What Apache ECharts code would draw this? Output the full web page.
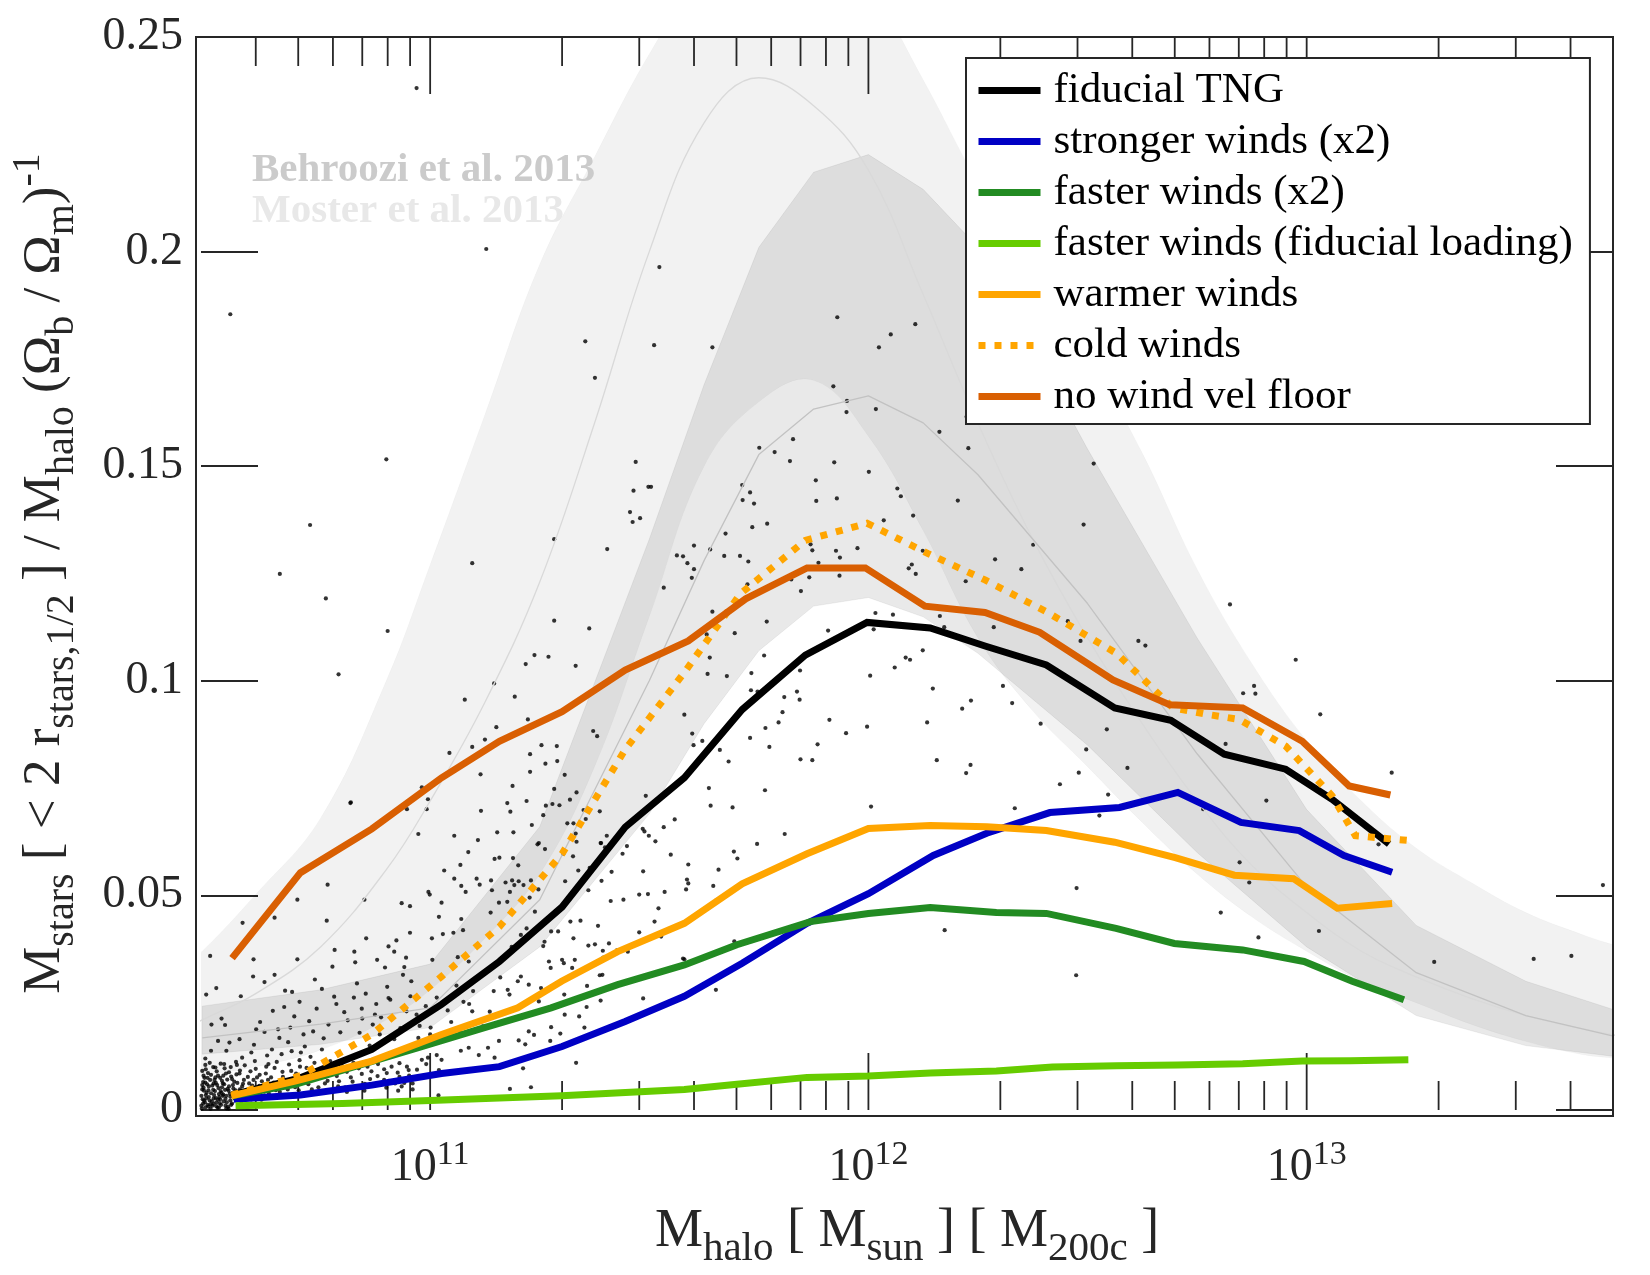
<!DOCTYPE html>
<html>
<head>
<meta charset="utf-8">
<title>Stellar mass fraction vs halo mass</title>
<script src="https://cdn.jsdelivr.net/npm/echarts@6/dist/echarts.min.js"></script>
<style>
  html, body { margin: 0; padding: 0; background: #fff; }
  #chart { width: 1650px; height: 1275px; }
</style>
</head>
<body>
<div id="chart"></div>
<script>
// ---- data (x = log10 M_halo, y = M_stars / M_halo / (Omega_b/Omega_m)) ----
const fiducialLogM = [10.548, 10.704, 10.867, 11.026, 11.158, 11.301, 11.445, 11.580, 11.712, 11.856, 11.997, 12.141, 12.266, 12.406, 12.562, 12.690, 12.812, 12.952, 13.058, 13.188];
const fiducialVal = [0.0035, 0.0075, 0.0141, 0.0246, 0.0346, 0.0473, 0.0659, 0.0774, 0.0933, 0.1060, 0.1136, 0.1123, 0.1081, 0.1037, 0.0937, 0.0908, 0.0829, 0.0794, 0.0724, 0.0620];

const strongerLogM = [10.552, 10.704, 10.867, 11.026, 11.158, 11.301, 11.445, 11.580, 11.712, 11.860, 12.000, 12.148, 12.270, 12.414, 12.573, 12.706, 12.850, 12.983, 13.085, 13.195];
const strongerVal = [0.0025, 0.0035, 0.0058, 0.0085, 0.0101, 0.0148, 0.0206, 0.0265, 0.0342, 0.0435, 0.0504, 0.0593, 0.0645, 0.0693, 0.0705, 0.0740, 0.0670, 0.0651, 0.0593, 0.0554];

const fasterX2LogM = [10.548, 10.692, 10.973, 11.124, 11.276, 11.428, 11.580, 11.700, 11.868, 12.000, 12.141, 12.292, 12.406, 12.565, 12.698, 12.854, 12.994, 13.104, 13.222];
const fasterX2Val = [0.0033, 0.0060, 0.0145, 0.0192, 0.0238, 0.0292, 0.0338, 0.0385, 0.0439, 0.0458, 0.0472, 0.0460, 0.0458, 0.0423, 0.0388, 0.0373, 0.0346, 0.0300, 0.0257];

const fasterFidLogM = [10.556, 10.800, 11.000, 11.300, 11.580, 11.700, 11.860, 12.000, 12.141, 12.292, 12.420, 12.565, 12.706, 12.854, 12.990, 13.100, 13.232];
const fasterFidVal = [0.0010, 0.0015, 0.0022, 0.0033, 0.0048, 0.0060, 0.0076, 0.0079, 0.0086, 0.0091, 0.0100, 0.0103, 0.0105, 0.0108, 0.0114, 0.0115, 0.0117];

const warmerLogM = [10.546, 10.694, 10.867, 11.026, 11.200, 11.300, 11.428, 11.580, 11.712, 11.860, 12.000, 12.141, 12.270, 12.406, 12.562, 12.700, 12.835, 12.970, 13.070, 13.195];
const warmerVal = [0.0033, 0.0068, 0.0114, 0.0176, 0.0238, 0.0300, 0.0369, 0.0435, 0.0527, 0.0597, 0.0656, 0.0663, 0.0660, 0.0651, 0.0624, 0.0588, 0.0547, 0.0539, 0.0470, 0.0481];

const coldLogM = [10.548, 10.704, 10.867, 11.026, 11.158, 11.301, 11.445, 11.579, 11.708, 11.856, 11.997, 12.135, 12.266, 12.406, 12.566, 12.695, 12.778, 12.846, 12.952, 13.058, 13.111, 13.233];
const coldVal = [0.0035, 0.0080, 0.0176, 0.0311, 0.0427, 0.0597, 0.0840, 0.1018, 0.1203, 0.1327, 0.1367, 0.1297, 0.1235, 0.1161, 0.1064, 0.0937, 0.0921, 0.0910, 0.0848, 0.0732, 0.0639, 0.0628];

const noFloorLogM = [10.548, 10.704, 10.867, 11.026, 11.158, 11.301, 11.445, 11.589, 11.720, 11.860, 11.993, 12.129, 12.266, 12.391, 12.558, 12.688, 12.854, 12.990, 13.097, 13.191];
const noFloorVal = [0.0354, 0.0553, 0.0655, 0.0774, 0.0859, 0.0928, 0.1025, 0.1093, 0.1191, 0.1263, 0.1263, 0.1174, 0.1159, 0.1113, 0.1002, 0.0944, 0.0937, 0.0859, 0.0755, 0.0734];

// Behroozi et al. 2013 band
const behrooziLogM = [10.48, 10.75, 11.0, 11.25, 11.5, 11.625, 11.75, 11.875, 12.0, 12.125, 12.25, 12.5, 12.75, 13.0, 13.25, 13.5, 13.7];
const behrooziUpper = [0.0242, 0.0280, 0.0340, 0.0660, 0.1330, 0.1690, 0.2010, 0.2185, 0.2226, 0.2145, 0.2010, 0.1540, 0.1100, 0.0700, 0.0430, 0.0300, 0.0234];
const behrooziMid = [0.0168, 0.0200, 0.0238, 0.0490, 0.1000, 0.1280, 0.1527, 0.1633, 0.1664, 0.1601, 0.1480, 0.1180, 0.0830, 0.0520, 0.0320, 0.0220, 0.0172];
const behrooziLower = [0.0130, 0.0153, 0.0192, 0.0380, 0.0690, 0.0900, 0.1070, 0.1174, 0.1194, 0.1149, 0.1064, 0.0850, 0.0600, 0.0380, 0.0220, 0.0150, 0.0125];

// Moster et al. 2013 band (smooth)
const mosterLogM = [10.40, 10.48, 10.6, 10.75, 10.9, 11.0, 11.125, 11.25, 11.375, 11.5, 11.625, 11.75, 11.875, 12.0, 12.125, 12.25, 12.375, 12.5, 12.625, 12.75, 12.875, 13.0, 13.125, 13.25, 13.375, 13.5, 13.625, 13.7, 13.8];
const mosterUpper = [0.030, 0.037, 0.050, 0.068, 0.100, 0.127, 0.162, 0.197, 0.222, 0.246, 0.265, 0.275, 0.275, 0.262, 0.240, 0.216, 0.196, 0.176, 0.153, 0.126, 0.104, 0.086, 0.072, 0.061, 0.053, 0.046, 0.041, 0.0385, 0.036];
const mosterMid = [0.017, 0.021, 0.027, 0.038, 0.056, 0.072, 0.095, 0.123, 0.160, 0.200, 0.230, 0.2405, 0.234, 0.219, 0.190, 0.160, 0.133, 0.110, 0.090, 0.072, 0.057, 0.046, 0.037, 0.031, 0.026, 0.022, 0.019, 0.0175, 0.016];
const mosterLower = [0.0065, 0.008, 0.010, 0.014, 0.021, 0.028, 0.040, 0.055, 0.080, 0.115, 0.150, 0.165, 0.170, 0.157, 0.135, 0.110, 0.093, 0.080, 0.067, 0.055, 0.045, 0.037, 0.030, 0.025, 0.020, 0.016, 0.013, 0.0121, 0.011];

// individual galaxies of the fiducial run: [log10 M_halo, ratio]
const galaxyPoints = [
  [11.128,0.2006],[10.544,0.1854],[11.523,0.1964],[11.354,0.1791],[11.511,0.1782],[11.376,0.1706],[10.900,0.1516],[11.469,0.1510],[11.464,0.1443],[11.498,0.1452],[11.504,0.1452],[11.456,0.1393],[11.479,0.1379],[11.462,0.1370],[10.726,0.1363],[11.283,0.1330],[11.404,0.1307],[11.096,0.1274],[10.657,0.1249],[11.602,0.1315],[11.563,0.1292],[11.577,0.1290],[11.587,0.1274],[11.602,0.1260],[11.597,0.1240],[11.533,0.1217],[10.969,0.2381],
  [11.644,0.1777],[11.929,0.1847],[12.107,0.1831],[12.051,0.1807],[12.024,0.1777],[11.920,0.1686],[11.951,0.1652],[11.950,0.1626],[12.017,0.1633],[12.224,0.1615],[12.162,0.1580],[12.228,0.1542],[11.751,0.1543],[11.828,0.1563],[11.786,0.1533],[11.821,0.1512],[11.922,0.1509],[12.001,0.1487],[12.514,0.1506],
  [11.880,0.1467],[11.712,0.1456],[11.730,0.1439],[11.713,0.1421],[11.739,0.1413],[11.881,0.1419],[11.928,0.1425],[12.066,0.1448],[12.074,0.1430],[12.204,0.1420],[12.491,0.1364],[12.102,0.1385],[12.035,0.1374],[11.769,0.1366],[11.735,0.1358],[11.674,0.1343],[11.639,0.1306],[11.671,0.1291],[11.707,0.1291],[11.726,0.1278],[11.868,0.1318],[11.872,0.1304],[11.926,0.1303],[11.935,0.1287],[11.975,0.1309],[11.886,0.1275],[11.865,0.1241],[11.934,0.1245],[11.846,0.1209],[11.824,0.1236],[11.724,0.1225],[12.124,0.1303],[12.099,0.1271],[12.092,0.1262],[12.108,0.1249],[12.222,0.1232],[12.289,0.1283],[12.349,0.1260],[12.376,0.1317],[12.616,0.1093],[12.632,0.1082],[12.484,0.1093],[12.455,0.1139],[12.286,0.1125],[12.163,0.1151],[12.173,0.1125],[12.016,0.1158],[12.056,0.1154],[12.012,0.1120],[11.908,0.1117],[11.695,0.1111],[11.644,0.1161],[11.631,0.1108],[11.638,0.1054],[11.633,0.1016],[11.677,0.1011],[11.768,0.1138],[11.762,0.1059],[11.733,0.1018],[11.580,0.0921],[11.598,0.0877],[11.621,0.0860],[11.601,0.0850],[11.844,0.1024],[11.732,0.0978],[11.747,0.0975],[11.808,0.0962],[11.837,0.0975],[11.843,0.0956],[11.804,0.0927],[11.795,0.0903],[11.765,0.0890],[11.730,0.0867],[11.661,0.0839],[11.681,0.0812],[11.884,0.0852],[11.911,0.0909],[11.949,0.0878],[11.997,0.0893],[12.004,0.1012],[12.060,0.1031],[12.085,0.1054],[12.095,0.1049],[12.124,0.1071],[12.147,0.0982],[12.134,0.0903],[12.214,0.0935],[12.234,0.0954],[12.307,0.0988],[12.328,0.0948],[12.393,0.0900],[12.544,0.0887],[12.497,0.0840],[12.591,0.0797],[12.480,0.0786],[12.437,0.0759],[12.547,0.0735],[12.334,0.0703],[12.527,0.0686],[12.233,0.0804],[12.223,0.0785],[12.156,0.0815],[11.845,0.0817],[11.872,0.0815],[11.774,0.0846],[11.636,0.0750],[11.764,0.0745],[11.640,0.0709],[11.690,0.0705],[12.006,0.0707],[11.809,0.0643],[11.746,0.0620],[11.693,0.0602],[11.701,0.0586],[11.589,0.0572],[11.658,0.0560],[11.586,0.0537],[11.646,0.0522],[12.475,0.0517],
  [11.589,0.0528],[11.584,0.0514],[11.652,0.0488],[11.694,0.0393],[11.580,0.0351],[11.652,0.0280],[12.174,0.0419],[12.474,0.0314],
  [12.975,0.1049],[12.880,0.0988],[12.883,0.0970],[12.855,0.0971],[13.031,0.0922],[12.815,0.0853],[13.194,0.0786],[12.908,0.0721],[12.764,0.0701],[13.164,0.0619],[12.847,0.0577],[12.869,0.0530],[12.804,0.0460],[12.890,0.0402],[13.028,0.0417],[13.291,0.0345],[13.518,0.0352],[13.604,0.0359],[13.676,0.0524],[12.825,0.1178],
  [10.762,0.1192],[10.903,0.1116],[10.791,0.1015],[11.283,0.1140],[11.363,0.1122],[11.238,0.1060],[11.270,0.1056],[11.218,0.1039],[11.332,0.1035],[11.146,0.0994],[11.193,0.0963],[11.079,0.0956],[11.151,0.0892],[11.223,0.0910],[11.372,0.0883],[11.381,0.0871],[11.096,0.0846],[11.125,0.0863],[11.044,0.0832],[11.254,0.0850],[11.289,0.0848],[11.228,0.0829],[11.290,0.0813],[11.263,0.0807],[11.307,0.0781],[11.228,0.0788],[11.188,0.0755],[11.283,0.0748],[11.334,0.0740],[11.115,0.0782],[11.116,0.0697],[11.183,0.0695],[11.153,0.0647],[11.190,0.0647],[11.258,0.0687],[11.279,0.0713],[11.319,0.0723],[11.313,0.0668],[11.332,0.0644],[11.334,0.0625],[11.232,0.0664],[11.248,0.0622],[11.304,0.0597],[11.055,0.0639],[11.087,0.0601],[11.069,0.0571],[11.032,0.0558],[10.973,0.0643],[10.995,0.0724],[10.992,0.0701],[10.947,0.0701],[10.981,0.0752],[10.818,0.0715],[11.147,0.0585],[11.139,0.0535],[11.187,0.0535],[11.213,0.0524],[11.106,0.0539],[11.055,0.0539],[10.996,0.0508],[11.387,0.0696],[11.389,0.0622],[10.766,0.0525],
  [10.819,0.0717],[11.176,0.0715],[11.220,0.0720],[11.264,0.0709],[11.295,0.0710],[11.109,0.0629],[11.113,0.0525],[11.071,0.0522],[11.081,0.0508],[11.158,0.0588],[11.189,0.0587],[11.201,0.0570],[11.245,0.0619],[11.262,0.0608],[11.202,0.0533],[11.172,0.0530],[11.192,0.0524],[11.141,0.0512],[11.182,0.0508],[11.230,0.0535],[11.138,0.0460],[11.176,0.0485],[11.157,0.0483],[11.247,0.0514],[11.227,0.0495],[11.239,0.0462],[10.999,0.0502],[10.935,0.0482],[10.954,0.0475],[11.026,0.0483],[10.850,0.0490],[10.697,0.0490],[10.645,0.0448],[10.764,0.0441],[10.572,0.0436],[11.020,0.0450],[11.071,0.0445],[11.029,0.0410],[11.053,0.0413],[11.075,0.0419],[11.004,0.0400],[10.954,0.0413],[10.923,0.0395],[10.854,0.0400],[11.207,0.0408],[11.220,0.0423],[11.261,0.0392],[11.186,0.0380],[11.258,0.0382],[11.276,0.0416],[10.782,0.0373],[10.905,0.0381],[10.918,0.0369],[10.827,0.0369],[10.945,0.0355],[10.879,0.0350],[10.498,0.0359],[10.597,0.0351],[10.697,0.0351],[10.777,0.0334],[10.829,0.0344],[11.005,0.0350],[11.063,0.0356],[11.088,0.0346],[10.897,0.0332],[10.941,0.0333],[10.833,0.0295],[10.957,0.0300],[10.938,0.0315],[10.645,0.0315],[10.596,0.0311],[10.622,0.0298],[10.737,0.0304],[10.512,0.0284],[10.489,0.0269],[10.568,0.0265],[10.669,0.0278],[10.685,0.0275],[10.753,0.0282],[10.909,0.0257],[10.877,0.0247],[10.844,0.0236],[10.786,0.0247],[10.804,0.0228],[10.874,0.0222],[10.888,0.0216],[10.845,0.0213],[10.869,0.0199],[10.911,0.0213],[10.969,0.0222],[10.946,0.0230],[10.905,0.0261],[11.015,0.0262],[11.076,0.0252],[11.089,0.0247],[11.096,0.0230],[11.136,0.0229],[11.098,0.0277],[11.145,0.0277],[11.177,0.0280],[11.160,0.0309],[11.181,0.0269],[11.248,0.0253],[11.200,0.0300],[11.225,0.0292],[11.207,0.0311],[11.275,0.0331],[11.271,0.0346],[11.305,0.0342],[11.320,0.0439],[11.343,0.0441],[11.327,0.0400],[11.383,0.0429],[11.361,0.0383],[11.376,0.0386],[11.394,0.0371],[11.387,0.0314],[11.358,0.0289],[11.324,0.0331],[11.330,0.0350],[11.301,0.0350],[11.292,0.0416],[11.408,0.0388],[11.395,0.0355],[11.426,0.0372],[11.451,0.0369],[11.477,0.0414],[11.512,0.0439],[11.527,0.0404],[11.577,0.0353],[11.412,0.0487],[11.441,0.0490],[11.477,0.0502],[11.497,0.0503],[11.486,0.0556],[11.521,0.0470],[11.535,0.0508],[11.549,0.0595],[11.558,0.0677],[11.533,0.0659],[11.489,0.0649],[11.499,0.0639],[11.514,0.0626],[11.449,0.0615],[11.439,0.0597],[11.414,0.0555],[11.391,0.0534],[11.361,0.0512],[11.321,0.0500],[11.308,0.0533],[11.338,0.0558],[11.364,0.0564],[11.399,0.0612],[11.403,0.0639],[11.355,0.0678],[11.390,0.0622],[11.326,0.0591],[11.327,0.0668],[11.350,0.0699],[11.492,0.0732],[11.485,0.0655],[11.486,0.0260],[11.389,0.0255],[11.393,0.0315],[11.357,0.0240],[11.340,0.0218],[11.352,0.0192],[11.307,0.0222],[11.276,0.0193],[11.297,0.0178],[11.274,0.0161],[11.225,0.0183],[11.237,0.0175],[11.254,0.0133],[11.217,0.0153],[11.202,0.0162],[11.212,0.0097],[11.333,0.0110],[11.230,0.0053],[11.182,0.0049],[11.253,0.0284],[11.306,0.0269],[11.157,0.0161],[11.132,0.0145],[11.147,0.0122],[11.111,0.0128],[11.088,0.0145],[11.070,0.0138],[11.048,0.0205],[11.068,0.0185],[11.026,0.0117],[11.015,0.0128],[11.020,0.0093],[11.001,0.0192],[10.976,0.0196],[11.000,0.0176],[10.973,0.0168],[10.995,0.0122],[11.019,0.0034],[10.981,0.0117],[10.970,0.0094],[10.991,0.0107],[10.930,0.0109],[10.951,0.0093],[10.965,0.0074],[10.926,0.0087],[10.941,0.0063],[10.920,0.0062],[10.895,0.0095],[10.901,0.0086],[10.881,0.0107],[10.857,0.0101],[10.825,0.0110],[10.806,0.0115],[10.772,0.0114],[10.753,0.0141],[10.727,0.0124],[10.705,0.0134],[10.711,0.0176],[10.733,0.0183],[10.681,0.0192],[10.656,0.0168],[10.622,0.0182],[10.603,0.0188],[10.565,0.0165],[10.542,0.0157],[10.516,0.0161],[10.501,0.0199],[10.524,0.0213],[10.532,0.0198],[10.500,0.0138],[10.535,0.0138],[10.571,0.0122],[10.592,0.0134],[10.639,0.0141],[10.661,0.0130],[10.684,0.0137],[10.631,0.0107],[10.600,0.0114],[10.559,0.0105],[10.530,0.0107],[10.510,0.0099],[10.487,0.0105],[10.480,0.0091],[10.516,0.0080],[10.548,0.0072],[10.565,0.0085],[10.590,0.0090],[10.605,0.0076],[10.625,0.0085],[10.645,0.0098],[10.664,0.0077],[10.683,0.0091],[10.703,0.0101],[10.719,0.0084],[10.742,0.0091],[10.760,0.0077],[10.782,0.0091],[10.792,0.0067],[10.819,0.0076],[10.844,0.0084],[10.863,0.0072],[10.884,0.0059],[10.906,0.0068],[10.927,0.0045],[10.952,0.0080],[10.836,0.0053],[10.806,0.0053],[10.779,0.0047],[10.745,0.0053],[10.722,0.0060],[10.692,0.0053],[10.669,0.0060],[10.639,0.0055],[10.616,0.0067],[10.594,0.0057],[10.571,0.0055],[10.525,0.0053],[10.506,0.0062],[10.487,0.0064],[10.484,0.0045],[10.495,0.0030],[10.506,0.0014],[10.518,0.0037],[10.533,0.0026],[10.484,0.0022],[10.487,0.0006],[10.499,0.0003],[10.518,0.0006],[10.533,0.0010],[10.540,0.0003],[10.478,0.0033],[10.478,0.0010],[10.525,0.0068],[10.510,0.0076],
  [10.482,0.0015],[10.490,0.0040],[10.495,0.0055],[10.502,0.0020],[10.505,0.0047],[10.511,0.0028],[10.514,0.0058],[10.520,0.0016],[10.522,0.0044],[10.527,0.0033],[10.530,0.0060],[10.536,0.0018],[10.538,0.0049],[10.543,0.0038],[10.546,0.0012],[10.550,0.0058],[10.553,0.0028],[10.556,0.0046],[10.480,0.0058],[10.485,0.0075],[10.493,0.0086],[10.498,0.0070],[10.528,0.0080],[10.541,0.0088],[10.489,0.0027],[10.507,0.0035],[10.480,0.0048],[10.492,0.0012],[10.512,0.0009],[10.521,0.0025],[10.535,0.0004],[10.544,0.0022],[10.550,0.0040],[10.560,0.0063],[10.566,0.0048],[10.575,0.0070],[10.580,0.0040],[10.587,0.0062],[10.600,0.0045],[10.610,0.0056],[10.622,0.0043],[10.630,0.0070],[10.648,0.0046],[10.655,0.0064],[10.675,0.0048],[10.700,0.0046],[10.730,0.0048],[10.760,0.0062],[10.790,0.0055],[10.810,0.0042],[10.850,0.0045],[10.870,0.0060],[10.900,0.0052],[10.935,0.0055],[10.960,0.0048],
  [10.479,0.0003],[10.481,0.0025],[10.483,0.0052],[10.483,0.0080],[10.486,0.0018],[10.488,0.0035],[10.488,0.0095],[10.491,0.0060],[10.494,0.0008],[10.494,0.0046],[10.497,0.0022],[10.497,0.0110],[10.500,0.0039],[10.500,0.0082],[10.503,0.0010],[10.503,0.0057],[10.506,0.0027],[10.508,0.0070],[10.509,0.0044],[10.512,0.0018],[10.513,0.0090],[10.515,0.0005],[10.517,0.0051],[10.519,0.0030],[10.521,0.0075],[10.523,0.0012],[10.524,0.0040],[10.527,0.0062],[10.529,0.0020],[10.531,0.0097],[10.532,0.0047],[10.535,0.0033],[10.537,0.0071],[10.539,0.0008],[10.541,0.0055],[10.544,0.0031],[10.546,0.0078],[10.548,0.0015],[10.551,0.0050],[10.553,0.0066],[10.556,0.0024],[10.558,0.0083],[10.482,0.0065],[10.487,0.0120],[10.492,0.0075],[10.499,0.0013],[10.505,0.0100],[10.511,0.0063],[10.516,0.0024],[10.522,0.0108],[10.528,0.0036],[10.534,0.0085],[10.540,0.0045],[10.545,0.0100],[10.552,0.0034],[10.557,0.0112],
  [10.562,0.0032],[10.566,0.0092],[10.569,0.0019],[10.573,0.0061],[10.577,0.0104],[10.580,0.0028],[10.584,0.0077],[10.588,0.0049],[10.592,0.0015],[10.597,0.0070],[10.602,0.0096],[10.606,0.0036],[10.611,0.0082],[10.615,0.0024],[10.620,0.0059],[10.626,0.0101],[10.632,0.0038],[10.637,0.0076],[10.643,0.0064],[10.650,0.0112],[10.657,0.0042],[10.663,0.0089],[10.670,0.0070],[10.678,0.0106],[10.686,0.0066],[10.694,0.0085],[10.702,0.0116],[10.710,0.0073],[10.718,0.0098],[10.727,0.0069],[10.736,0.0110],[10.745,0.0075],[10.755,0.0096],[10.766,0.0068],[10.776,0.0103],[10.787,0.0079],[10.798,0.0108],[10.810,0.0089],[10.823,0.0066],[10.837,0.0097],[10.851,0.0061],[10.866,0.0090],[10.880,0.0079],[10.895,0.0070],[10.912,0.0101],[10.930,0.0077],[10.947,0.0101],[10.960,0.0062],
  [10.598,0.0152],[10.612,0.0205],[10.628,0.0127],[10.641,0.0231],[10.653,0.0188],[10.667,0.0240],[10.676,0.0158],[10.690,0.0218],[10.702,0.0252],[10.714,0.0148],[10.724,0.0207],[10.741,0.0236],[10.757,0.0167],[10.768,0.0199],[10.781,0.0264],[10.795,0.0181],[10.812,0.0209],[10.826,0.0262],[10.839,0.0180],[10.853,0.0271],[10.862,0.0150],[10.885,0.0176],[10.902,0.0287],[10.918,0.0165],[10.932,0.0191],[10.955,0.0265],[10.990,0.0242],[11.040,0.0232],[11.060,0.0290],[11.120,0.0195]
];

// axis ticks (halo mass) and axis range
const majorTicks = [1e11, 1e12, 1e13];
const minorTicks = [4e10, 5e10, 6e10, 7e10, 8e10, 9e10,
  2e11, 3e11, 4e11, 5e11, 6e11, 7e11, 8e11, 9e11,
  2e12, 3e12, 4e12, 5e12, 6e12, 7e12, 8e12, 9e12,
  2e13, 3e13, 4e13];
const xMin = 3e10, xMax = 5e13;
const yMin = 0, yMax = 0.25, yStep = 0.05;

// ---- chart ----
const SERIF = "'Liberation Serif', 'Times New Roman', serif";
const AX = '#262626';
const chart = echarts.init(document.getElementById('chart'), null, { renderer: 'canvas' });

function toXY(logM, vals) {
  return logM.map((l, i) => [Math.pow(10, l), vals[i]]);
}

function bandSeries(logM, lower, upper, fill, stroke, smooth) {
  return {
    type: 'custom',
    silent: true,
    clip: true,
    data: [[Math.pow(10, logM[0]), lower[0]]],
    renderItem: function (params, api) {
      const pts = [];
      for (let i = 0; i < logM.length; i++) pts.push(api.coord([Math.pow(10, logM[i]), upper[i]]));
      for (let i = logM.length - 1; i >= 0; i--) pts.push(api.coord([Math.pow(10, logM[i]), lower[i]]));
      return {
        type: 'polygon',
        shape: { points: pts, smooth: smooth || 0 },
        style: { fill: fill, stroke: stroke, lineWidth: 1 }
      };
    }
  };
}

function midLine(logM, vals, color, smooth) {
  return {
    type: 'line', silent: true, symbol: 'none', clip: true, smooth: smooth || false,
    data: toXY(logM, vals),
    lineStyle: { color: color, width: 1.3 }
  };
}

function simLine(name, logM, vals, color, dash) {
  return {
    name: name, type: 'line', symbol: 'none', showSymbol: false, clip: true,
    data: toXY(logM, vals),
    lineStyle: { color: color, width: 7, type: dash || 'solid', cap: 'butt', join: 'miter' },
    itemStyle: { color: color }
  };
}

const tickData = majorTicks.map(v => [v, 1]).concat(minorTicks.map(v => [v, 0]));

const option = {
  animation: false,
  backgroundColor: '#fff',
  grid: { left: 196, right: 37, top: 37, bottom: 159, containLabel: false },
  legend: {
    left: 966, top: 58, orient: 'vertical',
    padding: [7, 17, 2, 9],
    itemGap: 0, itemWidth: 62, itemHeight: 14,
    selectedMode: false,
    backgroundColor: '#fff', borderColor: AX, borderWidth: 2,
    lineStyle: { width: 7 },
    itemStyle: { opacity: 0 },
    textStyle: { fontFamily: SERIF, fontSize: 43, color: '#000', lineHeight: 51, padding: [0, 0, 0, 8] },
    data: ['fiducial TNG', 'stronger winds (x2)', 'faster winds (x2)', 'faster winds (fiducial loading)', 'warmer winds', 'cold winds', 'no wind vel floor']
  },
  xAxis: {
    type: 'log', logBase: 10, min: xMin, max: xMax,
    axisLine: { show: false }, axisTick: { show: false }, splitLine: { show: false }, minorTick: { show: false },
    axisLabel: {
      interval: 0, margin: 28, showMinLabel: false, showMaxLabel: false,
      formatter: function (v) {
        const e = Math.log10(v);
        if (Math.abs(e - Math.round(e)) > 1e-6) return '';
        return '{b|10}{p|' + Math.round(e) + '}';
      },
      rich: {
        b: { fontFamily: SERIF, fontSize: 46, lineHeight: 60, color: AX },
        p: { fontFamily: SERIF, fontSize: 34, lineHeight: 22, verticalAlign: 'top', color: AX }
      }
    },
    name: '{b|M}{s|halo}{b| [ M}{s|sun}{b| ] [ M}{s|200c}{b| ]}',
    nameLocation: 'middle', nameGap: 84,
    nameTextStyle: {
      rich: {
        b: { fontFamily: SERIF, fontSize: 54, lineHeight: 76, color: AX },
        s: { fontFamily: SERIF, fontSize: 41, lineHeight: 21, verticalAlign: 'bottom', color: AX }
      }
    }
  },
  yAxis: [{
    type: 'value', min: yMin, max: yMax, interval: yStep,
    axisLine: { show: false }, splitLine: { show: false },
    axisTick: { show: true, inside: true, length: 57, lineStyle: { color: AX, width: 1.8 } },
    axisLabel: { fontFamily: SERIF, fontSize: 46, color: AX, margin: 18 },
    name: '{b|M}{s|stars}{b| [ < 2 r}{s|stars,1/2}{b| ] / M}{s|halo}{b| (Ω}{s|b}{b| / Ω}{s|m}{b|)}{p|-1}',
    nameLocation: 'middle', nameRotate: 90, nameGap: 119,
    nameTextStyle: {
      rich: {
        b: { fontFamily: SERIF, fontSize: 53, lineHeight: 74, color: AX },
        s: { fontFamily: SERIF, fontSize: 40, lineHeight: 14, verticalAlign: 'bottom', color: AX },
        p: { fontFamily: SERIF, fontSize: 40, lineHeight: 36, verticalAlign: 'top', color: AX }
      }
    }
  }, {
    type: 'value', position: 'right', min: yMin, max: yMax, interval: yStep,
    axisLine: { show: false }, splitLine: { show: false },
    axisTick: { show: true, inside: true, length: 57, lineStyle: { color: AX, width: 1.8 } },
    axisLabel: { show: false }
  }],
  graphic: [
    { type: 'text', left: 252, top: 150, z: 5, silent: true,
      style: { text: 'Behroozi et al. 2013', font: 'bold 41px ' + SERIF, fill: '#cbcbcb' } },
    { type: 'text', left: 252, top: 191, z: 5, silent: true,
      style: { text: 'Moster et al. 2013', font: 'bold 41px ' + SERIF, fill: '#e8e8e8' } },
    { type: 'rect', z: 50, silent: true,
      shape: { x: 196, y: 37, width: 1417, height: 1079 },
      style: { fill: 'none', stroke: AX, lineWidth: 2 } }
  ],
  series: [
    bandSeries(mosterLogM, mosterLower, mosterUpper, 'rgba(0,0,0,0.05)', 'rgba(0,0,0,0.025)', 0.4),
    bandSeries(behrooziLogM, behrooziLower, behrooziUpper, 'rgba(0,0,0,0.085)', 'rgba(0,0,0,0.06)', 0),
    midLine(mosterLogM, mosterMid, '#d9d9d9', 0.4),
    midLine(behrooziLogM, behrooziMid, '#c2c2c2', false),
    {
      type: 'custom', silent: true,
      data: tickData,
      encode: { x: 0, y: 1 },
      renderItem: function (params, api) {
        const cs = params.coordSys;
        const x = api.coord([api.value(0), 0])[0];
        const len = api.value(1) ? 57 : 29;
        const st = { stroke: AX, lineWidth: 1.8 };
        return {
          type: 'group',
          children: [
            { type: 'line', shape: { x1: x, y1: cs.y + cs.height, x2: x, y2: cs.y + cs.height - len }, style: st },
            { type: 'line', shape: { x1: x, y1: cs.y, x2: x, y2: cs.y + len }, style: st }
          ]
        };
      }
    },
    {
      type: 'scatter', silent: true, symbol: 'circle', symbolSize: 4.2,
      itemStyle: { color: '#000' },
      data: galaxyPoints.map(p => [Math.pow(10, p[0]), p[1]])
    },
    simLine('fiducial TNG', fiducialLogM, fiducialVal, '#000000'),
    simLine('stronger winds (x2)', strongerLogM, strongerVal, '#0000C4'),
    simLine('faster winds (x2)', fasterX2LogM, fasterX2Val, '#228B22'),
    simLine('faster winds (fiducial loading)', fasterFidLogM, fasterFidVal, '#66CC00'),
    simLine('warmer winds', warmerLogM, warmerVal, '#FFA500'),
    simLine('cold winds', coldLogM, coldVal, '#FFA500', [7, 9]),
    simLine('no wind vel floor', noFloorLogM, noFloorVal, '#D95F02')
  ]
};

chart.setOption(option);
</script>
</body>
</html>
